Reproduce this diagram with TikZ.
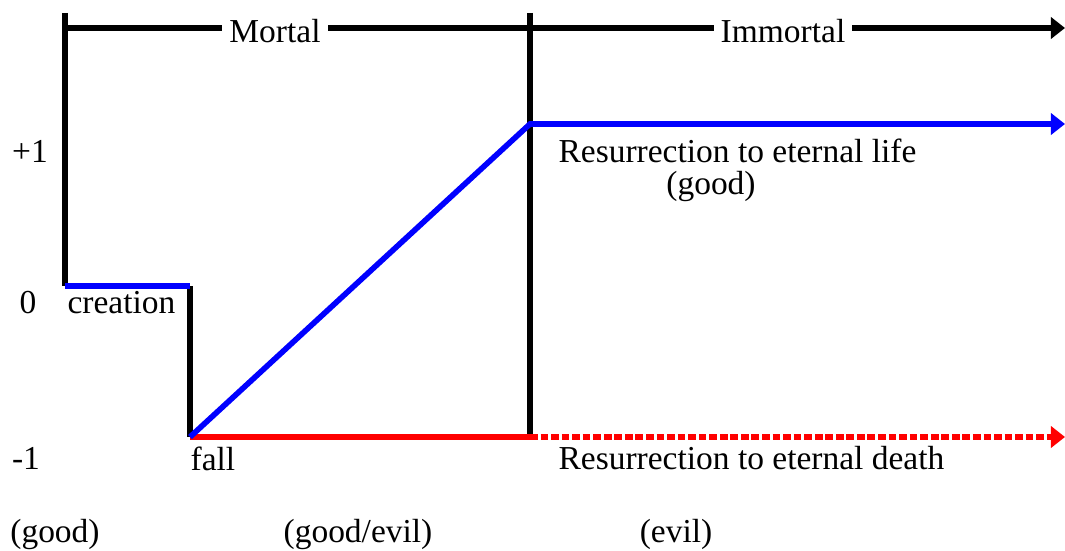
\documentclass[tikz,border=0pt]{standalone}
\usepackage{fontspec}
\setmainfont{Liberation Serif}
\usetikzlibrary{arrows.meta}
\begin{document}
\begin{tikzpicture}[x=0.025cm, y=-0.025cm, line width=4pt,
    tip/.style={-{Triangle[length=10pt,width=15pt]}},
    lbl/.style={font=\fontsize{23.8}{28}\selectfont, inner sep=2pt},
    gap/.style={lbl, fill=white, inner xsep=5pt}]
	\useasboundingbox (0,0) rectangle (1065,551);
	% Các điểm chính
	\coordinate (top0) at (65,13);
	\coordinate (bar0) at (65,28);
	\coordinate (barE) at (1065,28);
	\coordinate (cre) at (65,286);
	\coordinate (step) at (190,286);
	\coordinate (fall) at (190,437);
	\coordinate (div0) at (530,13);
	\coordinate (divE) at (530,437);
	\coordinate (rise) at (530,124);
	\coordinate (lifeE) at (1065,124);
	\coordinate (deathE) at (1065,437);
	
	% Khung đen
	\draw (top0) -- (cre);
	\draw[tip] (bar0) -- (barE);
	\draw (div0) -- (divE);
	\draw (step) -- (fall);
	
	% Nhãn trên thanh
	\node[gap] (mortal) at (275,31) {Mortal};
	\node[gap] (immortal) at (783,31) {Immortal};
	
	% Đường xanh và đỏ
	\draw[blue] (cre) -- (step);
	\draw[red] (fall) -- (divE);
	\draw[red, tip, dash pattern=on 5.5pt off 2pt] (divE) -- (deathE);
	\draw[blue, tip] (fall) -- (rise) -- (lifeE);
	
	% Trục tung
	\node[lbl] (pone) at (30,151) {+1};
	\node[lbl] (zero) at (28,303) {0};
	\node[lbl] (mone) at (26,458) {-1};
	
	% Chú thích
	\node[lbl, anchor=west] (lcre) at (62,303) {creation};
	\node[lbl, anchor=west] (lfall) at (185,459) {fall};
	\node[lbl, anchor=west] (llife) at (553,151) {Resurrection to eternal life};
	\node[lbl] (lgood) at (711,187) {(good)};
	\node[lbl, anchor=west] (ldeath) at (553,458) {Resurrection to eternal death};
	\node[lbl] (g1) at (55,534) {(good)};
	\node[lbl] (g2) at (358,534) {(good/evil)};
	\node[lbl] (g3) at (676,534) {(evil)};
\end{tikzpicture}
\end{document}
